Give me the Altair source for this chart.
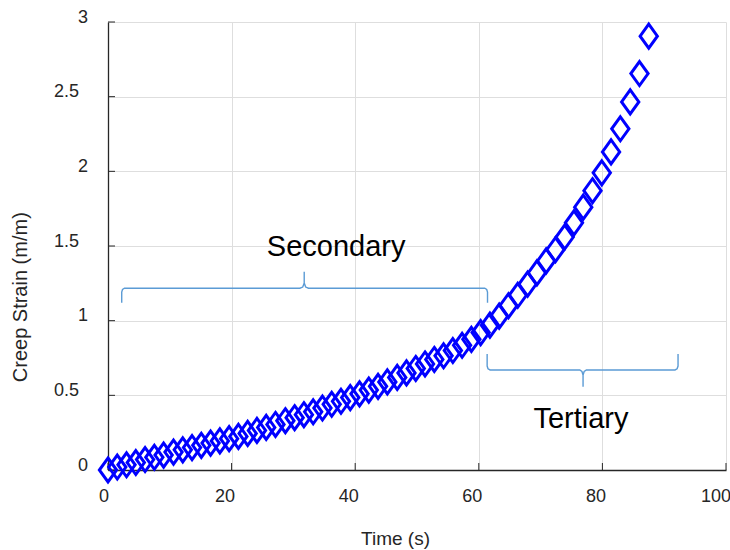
import altair as alt
import pandas as pd

# ---- data ----
time_s = [0, 1.5, 3.0, 4.5, 6.0, 7.5, 9.0, 10.6, 12.1, 13.6, 15.1, 16.6, 18.1, 19.6,
          21.1, 22.6, 24.1, 25.6, 27.1, 28.7, 30.2, 31.7, 33.2, 34.7, 36.2, 37.7, 39.2,
          40.7, 42.2, 43.7, 45.2, 46.8, 48.3, 49.8, 51.3, 52.8, 54.3, 55.8, 57.3, 58.8,
          60.3, 61.8, 63.3, 64.8, 66.3, 67.9, 69.4, 70.9, 72.4, 73.9, 75.4, 76.9, 78.4,
          79.9, 81.4, 82.9, 84.5, 86.0, 87.5]
strain = [0, 0.02, 0.035, 0.05, 0.07, 0.085, 0.10, 0.12, 0.135, 0.15, 0.165, 0.18, 0.195,
          0.21, 0.225, 0.245, 0.265, 0.285, 0.305, 0.33, 0.35, 0.37, 0.39, 0.415, 0.44,
          0.46, 0.485, 0.51, 0.535, 0.56, 0.59, 0.62, 0.65, 0.68, 0.71, 0.74, 0.765, 0.80,
          0.835, 0.875, 0.92, 0.97, 1.03, 1.10, 1.17, 1.245, 1.32, 1.40, 1.475, 1.56,
          1.655, 1.76, 1.87, 1.99, 2.13, 2.285, 2.465, 2.655, 2.905]

# brace outlines (data units)
sec_x = [2.22, 2.22, 2.35, 2.67, 31.05, 31.51, 31.75, 31.75, 31.75, 31.99, 32.44, 60.96, 61.28, 61.41, 61.41]
sec_y = [1.120, 1.192, 1.209, 1.217, 1.217, 1.225, 1.252, 1.328, 1.252, 1.225, 1.217, 1.217, 1.209, 1.192, 1.120]
ter_x = [61.35, 61.35, 61.49, 61.83, 76.34, 76.69, 76.87, 76.87, 76.87, 77.05, 77.41, 91.75, 92.09, 92.24, 92.24]
ter_y = [0.777, 0.696, 0.678, 0.670, 0.670, 0.660, 0.636, 0.558, 0.636, 0.660, 0.670, 0.670, 0.678, 0.696, 0.777]

note_text = ["Secondary", "Tertiary"]
note_x = [36.92, 76.53]
note_y = [1.433, 0.283]

x_ticks = [0, 20, 40, 60, 80, 100]
y_ticks = [0, 0.5, 1, 1.5, 2, 2.5, 3]

FONT = "Liberation Sans"
AX = "#262626"

pts = pd.DataFrame({"t": time_s, "y": strain})
braces = pd.DataFrame({
    "t": sec_x + ter_x,
    "y": sec_y + ter_y,
    "brace": ["sec"] * len(sec_x) + ["ter"] * len(ter_x),
    "idx": list(range(len(sec_x))) + list(range(len(ter_x))),
})
notes = pd.DataFrame({"t": note_x, "y": note_y, "txt": note_text})
xt = pd.DataFrame({"t": x_ticks})
yt = pd.DataFrame({"y": y_ticks})

W, H = 618, 448
xs = alt.Scale(domain=[0, 100], nice=False, zero=False)
ys = alt.Scale(domain=[0, 3], nice=False, zero=False)

xax = alt.Axis(values=x_ticks, grid=True, gridColor="#dedede", gridWidth=1,
               domainColor=AX, domainWidth=1.3, ticks=False, tickSize=0,
               labelPadding=17,
               labelOffset={"condition": [{"test": "datum.value == 0", "value": -4.5},
                                          {"test": "datum.value == 100", "value": -10.5}],
                            "value": -7},
               labelFontSize=18, labelFont=FONT,
               labelColor=AX, labelFlush=False, labelOverlap=False,
               title="Time (s)", titleFont=FONT, titleFontSize=19,
               titleFontWeight="normal", titleColor=AX, titleX=287, titleY=74,
               titleBaseline="alphabetic", titleAlign="center")
yax = alt.Axis(values=y_ticks, grid=True, gridColor="#dedede", gridWidth=1,
               domainColor=AX, domainWidth=1.3, ticks=False, tickSize=0,
               labelPadding={"condition": {"test": "datum.value % 1 != 0", "value": 29.5},
                             "value": 20.5},
               labelFontSize=18, labelFont=FONT, labelColor=AX,
               labelFlush=False, labelOverlap=False, labelBaseline="alphabetic",
               labelAlign="right",
               labelExpr="datum.value % 1 ? format(datum.value, '.1f') : format(datum.value, 'd')",
               title="Creep Strain (m/m)", titleFont=FONT, titleFontSize=20,
               titleFontWeight="normal", titleColor=AX, titleAngle=270,
               titleX=-81.3, titleY=274.7, titleBaseline="alphabetic", titleAlign="center")

X = lambda: alt.X("t:Q", scale=xs, axis=xax)
Y = lambda: alt.Y("y:Q", scale=ys, axis=yax)

diamond = "M0,-1L0.72,0L0,1L-0.72,0Z"

brace_layer = alt.Chart(braces).mark_line(color="#5b9bd5", strokeWidth=1.4).encode(
    x=X(), y=Y(), detail="brace:N", order="idx:Q")

pts_layer = alt.Chart(pts).mark_point(shape=diamond, size=576, filled=False,
                                      color="#0000ff", strokeWidth=3, opacity=1).encode(
    x=X(), y=Y())

text_layer = alt.Chart(notes).mark_text(font=FONT, fontSize=29, color="black",
                                        align="center", baseline="alphabetic").encode(
    x=X(), y=Y(), text="txt:N")

xtick_layer = alt.Chart(xt).mark_rule(color=AX, strokeWidth=1).encode(
    x=X(), y=alt.value(H), y2=alt.value(H - 7))
ytick_layer = alt.Chart(yt).mark_rule(color=AX, strokeWidth=1).encode(
    y=Y(), x=alt.value(0), x2=alt.value(7))

chart = alt.layer(brace_layer, xtick_layer, ytick_layer, pts_layer, text_layer).properties(
    width=W, height=H,
    autosize=alt.AutoSizeParams(type="none"),
    padding={"left": 108, "top": 22, "right": 4, "bottom": 80},
    background="white",
).configure_view(strokeWidth=0)

chart.save("out.html", embed_options={"renderer": "svg", "actions": False})
